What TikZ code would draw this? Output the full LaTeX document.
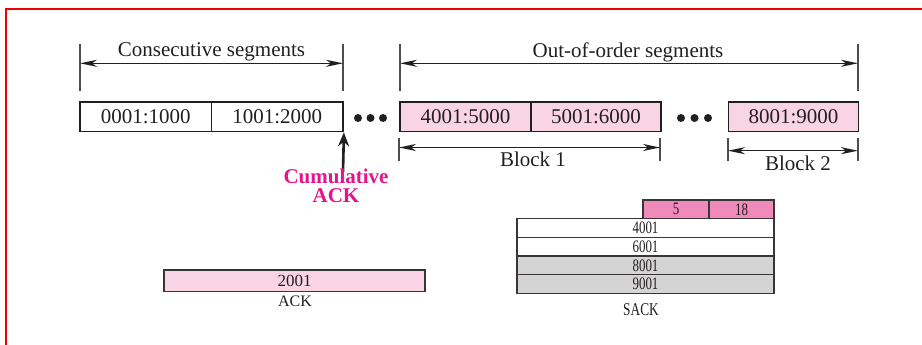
\documentclass[tikz,border=0pt]{standalone}
\usepackage{fontspec}
\setmainfont{Liberation Serif}
\newfontfamily\narrowserif[FakeStretch=0.74]{Liberation Serif}
\usetikzlibrary{arrows.meta}

\definecolor{segpink}{RGB}{249,212,228}
\definecolor{hdrpink}{RGB}{240,138,186}
\definecolor{rowgray}{RGB}{212,212,212}
\definecolor{ackmagenta}{RGB}{228,20,138}
\definecolor{inkgray}{RGB}{35,31,32}
\definecolor{framered}{RGB}{240,0,0}

\begin{document}
\begin{tikzpicture}[x=1pt,y=-1pt,
  seg/.style={draw=inkgray, line width=1.8pt, minimum height=29.5pt,
    inner sep=0pt, font=\fontsize{21}{25}\selectfont, text=inkgray},
  oseg/.style={seg, fill=segpink},
  dimtick/.style={draw=inkgray!80, line width=1.3pt},
  dimline/.style={draw=inkgray, line width=1.4pt,
    {Stealth[length=17pt,width=7pt,inset=5pt]}-{Stealth[length=17pt,width=7pt,inset=5pt]}},
  lbl/.style={inner sep=0pt, anchor=base, font=\fontsize{21}{25}\selectfont, text=inkgray},
  dotmark/.style={circle, fill=inkgray, inner sep=0pt, minimum size=8pt},
  ackarrow/.style={draw=inkgray, line width=2.6pt, -{Stealth[length=14pt,width=11pt]}},
  acklbl/.style={inner sep=0pt, anchor=base, text=ackmagenta,
    font=\fontsize{21}{25}\selectfont\bfseries},
  cell/.style={draw=inkgray!90, line width=1.2pt, inner sep=0pt, minimum height=18.7pt,
    font=\narrowserif\fontsize{17.5}{20}\selectfont, text=inkgray},
  hcell/.style={cell, fill=hdrpink},
  rowcell/.style={cell, minimum width=257pt},
  smalllbl/.style={inner sep=0pt, anchor=base, text=inkgray},
]
\useasboundingbox (0,0) rectangle (922,345);

% frame
\draw[framered, line width=2.6pt] (922,9) -- (6,9) -- (6,345);

% segment row
\node[seg, minimum width=131.5pt] (s1) at (145.75,116.7) {0001:1000};
\node[seg, minimum width=131.5pt] (s2) at (277.25,116.7) {1001:2000};
\node[oseg, minimum width=131pt] (p1) at (465.5,116.7) {4001:5000};
\node[oseg, minimum width=130pt] (p2) at (596,116.7) {5001:6000};
\node[oseg, minimum width=130pt] (p3) at (793.5,116.7) {8001:9000};

% gaps
\node[dotmark] (d1) at (358,118) {};
\node[dotmark] (d2) at (370.5,118) {};
\node[dotmark] (d3) at (383,118) {};
\node[dotmark] (d4) at (681,118) {};
\node[dotmark] (d5) at (694.5,118) {};
\node[dotmark] (d6) at (708,118) {};

% consecutive segments span
\coordinate (cTa) at (80,44);   \coordinate (cTb) at (80,91);
\coordinate (cUa) at (343,44);  \coordinate (cUb) at (343,91);
\coordinate (cL) at (80,63.3);  \coordinate (cR) at (343,63.3);
\draw[dimtick] (cTa) -- (cTb);
\draw[dimtick] (cUa) -- (cUb);
\draw[dimline] (cL) -- (cR);
\node[lbl] (cons) at (211.5,56.7) {Consecutive segments};

% out-of-order segments span
\coordinate (oTa) at (400,44);  \coordinate (oTb) at (400,91);
\coordinate (oUa) at (858,44);  \coordinate (oUb) at (858,91);
\coordinate (oL) at (400,63.3); \coordinate (oR) at (858,63.3);
\draw[dimtick] (oTa) -- (oTb);
\draw[dimtick] (oUa) -- (oUb);
\draw[dimline] (oL) -- (oR);
\node[lbl] (ooo) at (628,57.3) {Out-of-order segments};

% block 1
\coordinate (b1Ta) at (399,138);  \coordinate (b1Tb) at (399,160.5);
\coordinate (b1Ua) at (660,138);  \coordinate (b1Ub) at (660,160.5);
\coordinate (b1L) at (399,147.5); \coordinate (b1R) at (660,147.5);
\draw[dimtick] (b1Ta) -- (b1Tb);
\draw[dimtick] (b1Ua) -- (b1Ub);
\draw[dimline] (b1L) -- (b1R);
\node[lbl] (blk1) at (533,166.7) {Block 1};

% block 2
\coordinate (b2Ta) at (728,138);  \coordinate (b2Tb) at (728,160.5);
\coordinate (b2Ua) at (858,138);  \coordinate (b2Ub) at (858,160.5);
\coordinate (b2L) at (728,150.7); \coordinate (b2R) at (858,150.7);
\draw[dimtick] (b2Ta) -- (b2Tb);
\draw[dimtick] (b2Ua) -- (b2Ub);
\draw[dimline] (b2L) -- (b2R);
\node[lbl] (blk2) at (798,170) {Block 2};

% cumulative acknowledgment pointer
\coordinate (ackfoot) at (343,172);
\draw[ackarrow] (ackfoot) -- (s2.south east);
\node[acklbl] (cum1) at (336,183) {Cumulative};
\node[acklbl] (cum2) at (336,202) {ACK};

% plain ACK field
\node[draw=inkgray!90, line width=1.3pt, fill=segpink, inner sep=0pt,
  minimum width=261pt, minimum height=21.7pt, text=inkgray,
  font=\fontsize{17}{20}\selectfont] (ackbox) at (294.5,280.8) {2001};
\node[smalllbl, font=\fontsize{16}{19}\selectfont] (acklabel) at (295,306) {ACK};

% SACK option
\node[hcell, minimum width=66pt] (hlen) at (676,209.3) {5};
\node[hcell, minimum width=65pt] (hkind) at (741.5,209.3) {18};
\node[rowcell] (r1) at (645.5,228) {4001};
\node[rowcell] (r2) at (645.5,246.7) {6001};
\node[rowcell, fill=rowgray] (r3) at (645.5,265.3) {8001};
\node[rowcell, fill=rowgray] (r4) at (645.5,284) {9001};
\node[smalllbl, font=\narrowserif\fontsize{18}{21}\selectfont] (sacklabel) at (641,315) {SACK};
\end{tikzpicture}
\end{document}
